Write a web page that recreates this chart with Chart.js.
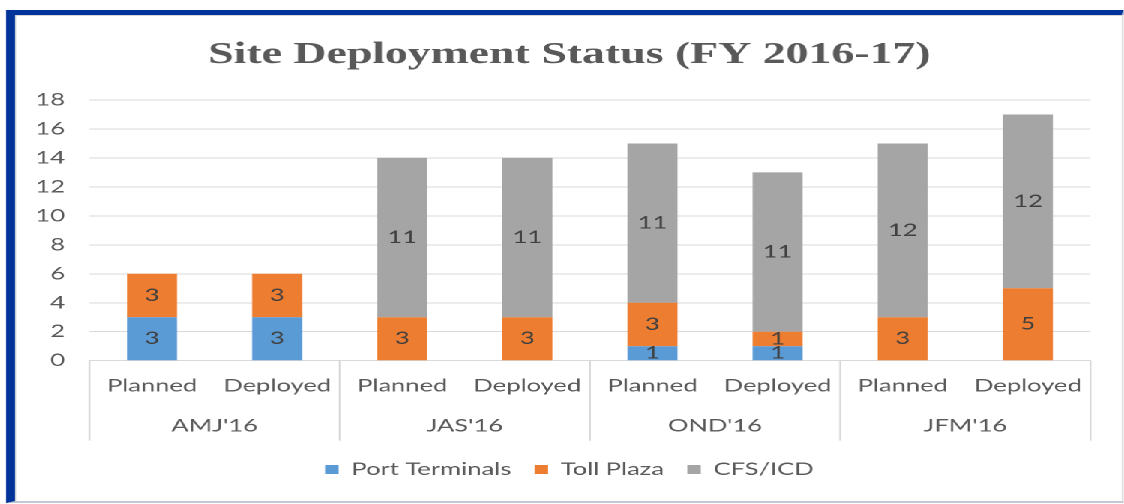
<!DOCTYPE html>
<html>
<head>
<meta charset="utf-8">
<script src="https://cdn.jsdelivr.net/npm/chart.js@4"></script>
<style>
  html, body { margin: 0; padding: 0; background: #ffffff; overflow: hidden; }
  #stretch { position: absolute; left: 0; top: 0; width: 749.333px; height: 504px;
             transform: scaleX(1.5); transform-origin: 0 0; }
  #frame { position: absolute; left: 4.47px; top: 10px; width: 744.2px; height: 493px;
           box-sizing: border-box; border-left: 6px solid #003399; border-top: 5px solid #003399;
           border-right: 1px solid #dcdcdc; border-bottom: 2px solid #c3c7d6; }
  #inner { position: absolute; left: 0; top: 0; right: 0; bottom: 0;
           border-left: 1px solid #e3e3e3; border-top: 1px solid #d6d6d6; }
  #box { position: absolute; left: 11.47px; top: 16px; width: 736.2px; height: 486px; }
</style>
</head>
<body>
<div id="stretch">
  <div id="frame"><div id="inner"></div></div>
  <div id="box"><canvas id="chart"></canvas></div>
</div>
<script>
const chartTitle = 'Site Deployment Status (FY 2016-17)';
const groups = ["AMJ'16", "JAS'16", "OND'16", "JFM'16"];
const stages = ['Planned', 'Deployed', 'Planned', 'Deployed', 'Planned', 'Deployed', 'Planned', 'Deployed'];
const seriesNames = ['Port Terminals', 'Toll Plaza', 'CFS/ICD'];
const portTerminals = [3, 3, 0, 0, 1, 1, 0, 0];
const tollPlaza = [3, 3, 3, 3, 3, 1, 3, 5];
const cfsIcd = [0, 0, 11, 11, 11, 11, 12, 12];
const yMin = 0, yMax = 18, yStep = 2;

const seriesColors = ['#5B9BD5', '#ED7D31', '#A5A5A5'];
const textColor = '#595959';
const gridColor = '#d9d9d9';
const labelFont = 'Lato, "Open Sans", sans-serif';
const groupBoxDepth = 35;

const valueLabels = {
  id: 'valueLabels',
  afterDatasetsDraw(chart) {
    const ctx = chart.ctx;
    ctx.save();
    ctx.font = '17px ' + labelFont;
    ctx.fillStyle = '#404040';
    ctx.textAlign = 'center';
    ctx.textBaseline = 'middle';
    chart.data.datasets.forEach((ds, i) => {
      const meta = chart.getDatasetMeta(i);
      meta.data.forEach((bar, j) => {
        const v = ds.data[j];
        if (!v) return;
        const p = bar.getProps(['x', 'y', 'base'], true);
        ctx.fillText(String(v), p.x, (p.y + p.base) / 2);
      });
    });
    ctx.restore();
  }
};

const groupLines = {
  id: 'groupLines',
  afterDraw(chart) {
    const xs = chart.scales.x, x2 = chart.scales.x2;
    const ctx = chart.ctx;
    const half = (x2.getPixelForValue(1) - x2.getPixelForValue(0)) / 2;
    ctx.save();
    ctx.strokeStyle = gridColor;
    ctx.lineWidth = 1.3;
    for (let g = 0; g <= groups.length; g++) {
      const px = g < groups.length ? x2.getPixelForValue(g) - half
                                   : x2.getPixelForValue(groups.length - 1) + half;
      ctx.beginPath();
      ctx.moveTo(px, xs.top);
      ctx.lineTo(px, x2.top + groupBoxDepth);
      ctx.stroke();
    }
    ctx.restore();
  }
};

function build() {
  new Chart(document.getElementById('chart'), {
    type: 'bar',
    data: {
      labels: stages,
      datasets: [
        { label: seriesNames[0], data: portTerminals, backgroundColor: seriesColors[0] },
        { label: seriesNames[1], data: tollPlaza, backgroundColor: seriesColors[1] },
        { label: seriesNames[2], data: cfsIcd, backgroundColor: seriesColors[2] }
      ]
    },
    options: {
      responsive: true,
      maintainAspectRatio: false,
      animation: false,
      devicePixelRatio: 2,
      datasets: { bar: { categoryPercentage: 1, barPercentage: 0.4, borderWidth: 0 } },
      layout: { padding: { left: 0, right: 0, top: 0, bottom: 14 } },
      plugins: {
        title: {
          display: true, text: chartTitle, color: textColor,
          font: { family: '"Liberation Serif", serif', size: 30.5, weight: 'bold' },
          padding: { top: 20.7, bottom: 26.7 }
        },
        legend: {
          position: 'bottom',
          labels: { color: textColor, font: { family: labelFont, size: 17 },
                    boxWidth: 9, boxHeight: 9, padding: 15.5 }
        },
        tooltip: { enabled: false }
      },
      scales: {
        x: {
          stacked: true,
          grid: { display: false, drawTicks: false },
          border: { display: true, color: gridColor },
          ticks: { color: textColor, font: { family: labelFont, size: 17 }, padding: 15.1, maxRotation: 0, autoSkip: false },
          afterFit(s) { s.height = 45; }
        },
        x2: {
          type: 'category',
          labels: groups,
          position: 'bottom',
          offset: true,
          weight: 1,
          grid: { display: false, drawTicks: false },
          border: { display: false },
          ticks: { color: textColor, font: { family: labelFont, size: 17 }, padding: 10.1, maxRotation: 0, autoSkip: false },
          afterFit(s) { s.height = 39.8; }
        },
        y: {
          stacked: true,
          min: yMin, max: yMax,
          grid: { color: gridColor, drawTicks: false },
          border: { display: false },
          ticks: { stepSize: yStep, color: textColor, font: { family: labelFont, size: 17 }, padding: 16.3 },
          afterFit(s) { s.width = 48.5; }
        },
        yRight: {
          type: 'linear',
          position: 'right',
          min: yMin, max: yMax,
          grid: { display: false, drawTicks: false },
          border: { display: false },
          ticks: { display: false },
          afterFit(s) { s.width = 21.1; }
        }
      }
    },
    plugins: [valueLabels, groupLines]
  });
}

if (document.fonts && document.fonts.load) {
  Promise.all([
    document.fonts.load('17px Lato'),
    document.fonts.load('bold 30px "Liberation Serif"')
  ]).then(build, build);
} else {
  build();
}
</script>
</body>
</html>
